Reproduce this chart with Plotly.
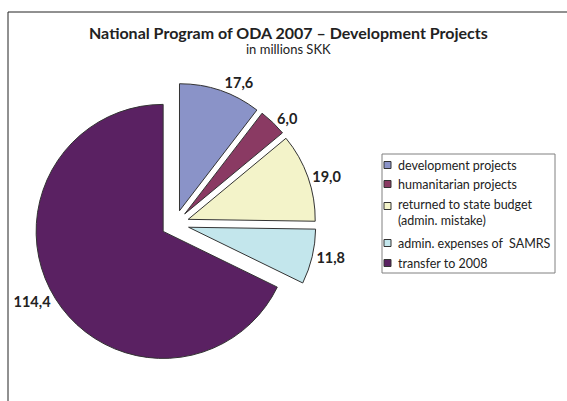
import plotly.graph_objects as go

categories = ["development projects", "humanitarian projects",
              "returned to state budget<br>(admin. mistake)",
              "admin. expenses of  SAMRS", "transfer to 2008"]
values = [17.6, 6.0, 19.0, 11.8, 114.4]
colors = ["#8A93C8", "#8A3A63", "#F3F3C9", "#C3E6EC", "#5A2162"]

W, H = 567, 401
cx, cy, half = 175, 224, 141

fig = go.Figure(go.Pie(
    labels=categories, values=values, sort=False, direction="clockwise",
    rotation=0, pull=[0.11] * 5,
    marker=dict(colors=colors, line=dict(color="#333333", width=1)),
    texttemplate="%{value:.1f}", textposition="outside",
    textfont=dict(family="Lato", size=14.5, color="#222222", weight="bold"),
    hoverinfo="label+value", showlegend=False,
    domain=dict(x=[(cx - half) / W, (cx + half) / W],
                y=[(H - cy - half) / H, (H - cy + half) / H]),
    automargin=False,
))

# manual legend (box, swatches, texts) built from the category lists
leg_left, leg_top, leg_right, leg_bottom = 382, 154, 555, 273
row_y = [165, 184, 212, 243, 263]
shapes = [dict(type="rect", xref="paper", yref="paper",
               x0=leg_left / W, x1=leg_right / W,
               y0=1 - leg_bottom / H, y1=1 - leg_top / H,
               line=dict(color="#808080", width=1), fillcolor="white", layer="below")]
annotations = []
for i, (lab, col) in enumerate(zip(categories, colors)):
    yy = row_y[i] if "<br>" not in lab else row_y[i] - 6
    shapes.append(dict(type="rect", xref="paper", yref="paper",
                       x0=384 / W, x1=391 / W,
                       y0=1 - (yy + 3.5) / H, y1=1 - (yy - 3.5) / H,
                       line=dict(color="#333333", width=1), fillcolor=col))
    annotations.append(dict(text=lab, x=396 / W, y=1 - row_y[i] / H,
                            xref="paper", yref="paper", xanchor="left", yanchor="middle",
                            align="left", showarrow=False,
                            font=dict(family="Lato", size=12.5, color="#222222")))

# frame lines
shapes.append(dict(type="line", xref="paper", yref="paper",
                   x0=8 / W, x1=1.0, y0=1 - 12 / H, y1=1 - 12 / H,
                   line=dict(color="#222222", width=1)))
shapes.append(dict(type="line", xref="paper", yref="paper",
                   x0=8 / W, x1=8 / W, y0=0, y1=1 - 12 / H,
                   line=dict(color="#222222", width=1)))

annotations += [
    dict(text="<b>National Program of ODA 2007 – Development Projects</b>",
         x=288 / W, y=1 - 33 / H, xref="paper", yref="paper",
         xanchor="center", yanchor="middle",
         showarrow=False, font=dict(family="Lato", size=16, color="#222222")),
    dict(text="in millions SKK", x=288 / W, y=1 - 49 / H, xref="paper", yref="paper",
         xanchor="center", yanchor="middle",
         showarrow=False, font=dict(family="Lato", size=13, color="#222222")),
]

fig.update_layout(
    width=W, height=H, separators=",.",
    margin=dict(l=0, r=0, t=0, b=0),
    paper_bgcolor="white", plot_bgcolor="white",
    font=dict(family="Lato", color="#222222"),
    annotations=annotations, shapes=shapes,
)

fig.write_html("out.html", config={"displayModeBar": False},
               post_script="document.body.style.margin='0';"
                           "document.body.style.overflow='hidden';"
                           "document.documentElement.style.overflow='hidden';")
